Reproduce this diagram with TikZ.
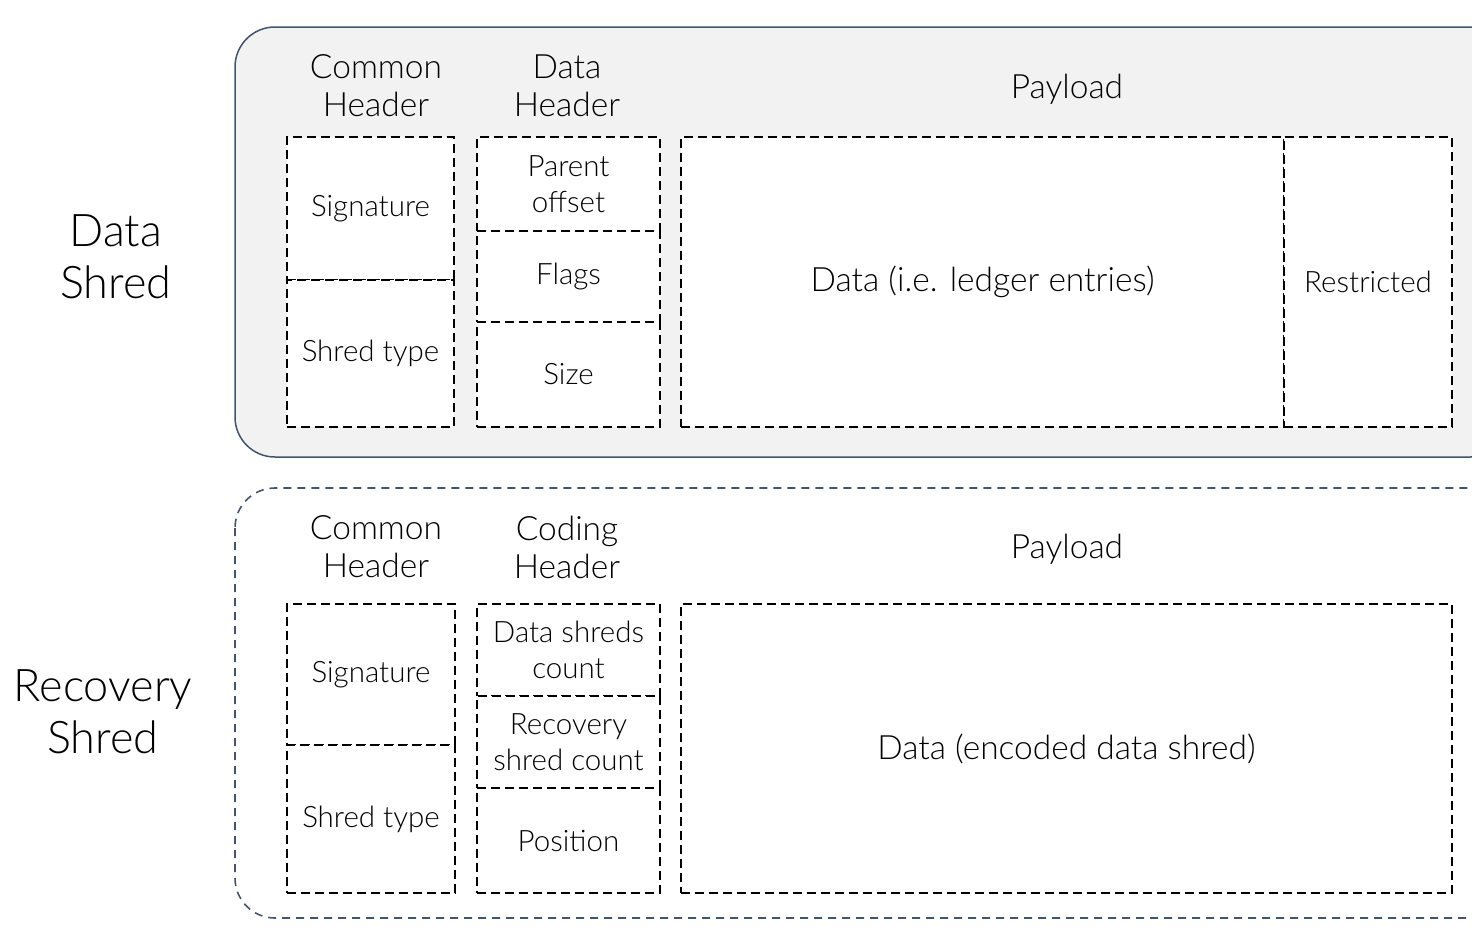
\documentclass[tikz,border=0pt]{standalone}
\usepackage{fontspec}
\setmainfont{Lato Light}
\definecolor{frameblue}{HTML}{44546A}
\definecolor{panelgray}{HTML}{F2F2F2}
\tikzset{
  cell/.style={draw, fill=white, line width=1.6pt, dash pattern=on 9pt off 5pt, inner sep=0pt, align=center, font=\fontsize{29.5}{36}\selectfont},
  head/.style={align=center, font=\fontsize{33.5}{38}\selectfont},
  side/.style={align=center, font=\fontsize{45}{52}\selectfont},
  big/.style={font=\fontsize{33.5}{38}\selectfont}
}
\begin{document}
\begin{tikzpicture}[x=1pt,y=-1pt]
\clip (0,0) rectangle (1472,938);
\fill[white] (0,0) rectangle (1472,938);
\draw[frameblue, line width=1.5pt, fill=panelgray, rounded corners=40pt] (235,27) rectangle (1510,457);
\draw[frameblue, line width=1.6pt, dash pattern=on 8pt off 6pt, rounded corners=40pt] (235,488) rectangle (1510,918);

\node[side] (datashred) at (116,257) {Data\\Shred};
\node[head] (commonA) at (376,86) {Common\\Header};
\node[head] (dheader) at (567,86) {Data\\Header};
\node[head] (payloadA) at (1067,89) {Payload};
\node[cell, minimum width=167pt, minimum height=143pt] (sigA) at (370.5,208.5) {Signature};
\node[cell, minimum width=167pt, minimum height=147pt] (typeA) at (370.5,353.5) {Shred type};
\node[cell, minimum width=183pt, minimum height=94pt] (parentoff) at (568.5,184) {Parent\\offset};
\node[cell, minimum width=183pt, minimum height=91pt] (flags) at (568.5,276.5) {Flags};
\node[cell, minimum width=183pt, minimum height=105pt] (size) at (568.5,374.5) {Size};
\node[cell, minimum width=603pt, minimum height=290pt] (dataA) at (982.5,282) {};
\node[big] at (dataA) {Data (i.e. ledger entries)};
\node[cell, minimum width=168pt, minimum height=290pt] (restricted) at (1368,282) {Restricted};

\node[side] (recshred) at (103,712) {Recovery\\Shred};
\node[head] (commonB) at (376,547) {Common\\Header};
\node[head] (cheader) at (567,547) {Coding\\Header};
\node[head] (payloadB) at (1067,549) {Payload};
\node[cell, minimum width=168pt, minimum height=141pt] (sigB) at (371,674.5) {Signature};
\node[cell, minimum width=168pt, minimum height=148pt] (typeB) at (371,819) {Shred type};
\node[cell, minimum width=183pt, minimum height=92pt] (dcount) at (568.5,650) {Data shreds\\count};
\node[cell, minimum width=183pt, minimum height=92pt] (rcount) at (568.5,742) {Recovery\\shred count};
\node[cell, minimum width=183pt, minimum height=105pt] (position) at (568.5,840.5) {Position};
\node[cell, minimum width=771pt, minimum height=289pt] (dataB) at (1066.5,748.5) {};
\node[big] at (dataB) {Data (encoded data shred)};
\end{tikzpicture}
\end{document}
